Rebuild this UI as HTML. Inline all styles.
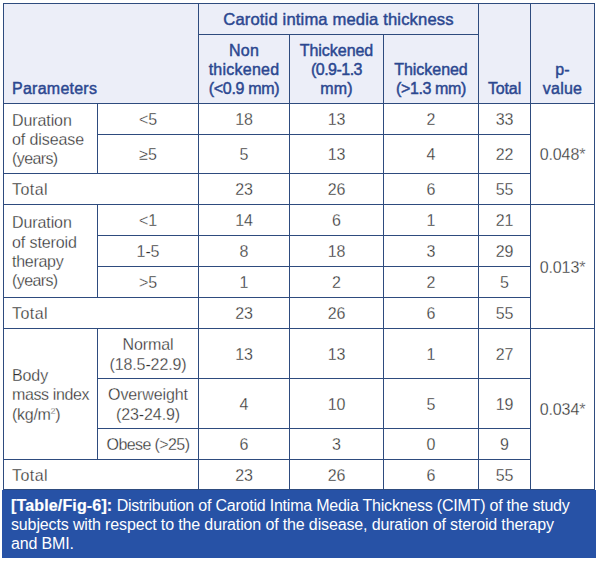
<!DOCTYPE html>
<html><head><meta charset="utf-8">
<style>
html,body{margin:0;padding:0;background:#fff;}
body{width:601px;height:563px;position:relative;overflow:hidden;font-family:"Liberation Sans",sans-serif;}
.hb{position:absolute;left:3px;top:3px;width:592px;height:100px;background:#eceef8;}
.h,.v{position:absolute;background:#2e4b7e;}
.h{height:1px;}
.v{width:1px;}
.cl{position:absolute;display:flex;align-items:center;justify-content:center;text-align:center;white-space:nowrap;box-sizing:border-box;}
.cl span{display:block;}
.b{font-size:16px;line-height:19.3px;color:#2e2e2e;-webkit-text-stroke:0.28px #fff;letter-spacing:-0.1px;padding-top:2px;}
.lft{justify-content:flex-start;text-align:left;padding-left:8px;}
.hd{font-size:16px;line-height:19px;color:#2b4790;-webkit-text-stroke:0.45px #2b4790;letter-spacing:0.25px;}
.ttl{font-size:16.6px;letter-spacing:0.15px;}
.bot{align-items:flex-end;padding-bottom:5px;}
sup{font-size:9px;line-height:0;vertical-align:6px;}
.cap{position:absolute;left:2px;top:490px;width:594px;height:68px;background:#2752a6;}
.ct{position:absolute;left:11px;top:496px;color:#fff;font-size:16px;line-height:19.2px;white-space:nowrap;letter-spacing:-0.16px;}
.ct b{letter-spacing:0.15px;-webkit-text-stroke:0.2px #fff;}
i{font-style:normal;}

</style></head><body>
<div class="hb"></div>
<div class="h" style="left:3px;top:3px;width:592px"></div>
<div class="h" style="left:198px;top:34px;width:281px"></div>
<div class="h" style="left:3px;top:103px;width:592px"></div>
<div class="h" style="left:97px;top:134px;width:434px"></div>
<div class="h" style="left:3px;top:173px;width:528px"></div>
<div class="h" style="left:3px;top:204px;width:592px"></div>
<div class="h" style="left:97px;top:235px;width:434px"></div>
<div class="h" style="left:97px;top:266px;width:434px"></div>
<div class="h" style="left:3px;top:297px;width:528px"></div>
<div class="h" style="left:3px;top:328px;width:592px"></div>
<div class="h" style="left:97px;top:378px;width:434px"></div>
<div class="h" style="left:97px;top:428px;width:434px"></div>
<div class="h" style="left:3px;top:459px;width:528px"></div>
<div class="h" style="left:3px;top:489px;width:592px"></div>
<div class="v" style="left:3px;top:3px;height:487px"></div>
<div class="v" style="left:97px;top:103px;height:71px"></div>
<div class="v" style="left:97px;top:204px;height:94px"></div>
<div class="v" style="left:97px;top:328px;height:132px"></div>
<div class="v" style="left:198px;top:3px;height:487px"></div>
<div class="v" style="left:289px;top:34px;height:456px"></div>
<div class="v" style="left:383px;top:34px;height:456px"></div>
<div class="v" style="left:478px;top:3px;height:487px"></div>
<div class="v" style="left:530px;top:3px;height:487px"></div>
<div class="v" style="left:594px;top:3px;height:487px"></div>
<div class="cl hd ttl" style="left:199px;top:4px;width:279px;height:30px;"><span>Carotid intima media thickness</span></div>
<div class="cl hd bot lft" style="left:4px;top:4px;width:194px;height:99px;"><span>Parameters</span></div>
<div class="cl hd bot" style="left:199px;top:35px;width:90px;height:68px;"><span>Non<br>thickened<br><i style="letter-spacing:-0.34px">(&lt;0.9 mm)</i></span></div>
<div class="cl hd bot" style="left:290px;top:35px;width:93px;height:68px;"><span><i style="letter-spacing:-0.04px">Thickened</i><br><i style="letter-spacing:-0.52px">(0.9-1.3</i><br>mm)</span></div>
<div class="cl hd bot" style="left:384px;top:35px;width:94px;height:68px;"><span><i style="letter-spacing:-0.04px">Thickened</i><br><i style="letter-spacing:-0.39px">(&gt;1.3 mm)</i></span></div>
<div class="cl hd bot" style="left:479px;top:4px;width:51px;height:99px;"><span><i style="letter-spacing:-0.12px">Total</i></span></div>
<div class="cl hd bot" style="left:531px;top:4px;width:63px;height:99px;"><span>p-<br>value</span></div>
<div class="cl b lft" style="left:4px;top:104px;width:93px;height:69px;"><span>Duration<br>of disease<br><i style="letter-spacing:-0.6px">(years)</i></span></div>
<div class="cl b" style="left:98px;top:104px;width:100px;height:30px;"><span>&lt;5</span></div>
<div class="cl b" style="left:199px;top:104px;width:90px;height:30px;"><span>18</span></div>
<div class="cl b" style="left:290px;top:104px;width:93px;height:30px;"><span>13</span></div>
<div class="cl b" style="left:384px;top:104px;width:94px;height:30px;"><span>2</span></div>
<div class="cl b" style="left:479px;top:104px;width:51px;height:30px;"><span>33</span></div>
<div class="cl b" style="left:98px;top:135px;width:100px;height:38px;"><span>≥5</span></div>
<div class="cl b" style="left:199px;top:135px;width:90px;height:38px;"><span>5</span></div>
<div class="cl b" style="left:290px;top:135px;width:93px;height:38px;"><span>13</span></div>
<div class="cl b" style="left:384px;top:135px;width:94px;height:38px;"><span>4</span></div>
<div class="cl b" style="left:479px;top:135px;width:51px;height:38px;"><span>22</span></div>
<div class="cl b lft" style="left:4px;top:174px;width:194px;height:30px;"><span><i style="letter-spacing:0.45px">Total</i></span></div>
<div class="cl b" style="left:199px;top:174px;width:90px;height:30px;"><span>23</span></div>
<div class="cl b" style="left:290px;top:174px;width:93px;height:30px;"><span>26</span></div>
<div class="cl b" style="left:384px;top:174px;width:94px;height:30px;"><span>6</span></div>
<div class="cl b" style="left:479px;top:174px;width:51px;height:30px;"><span>55</span></div>
<div class="cl b" style="left:531px;top:104px;width:63px;height:100px;"><span>0.048*</span></div>
<div class="cl b lft" style="left:4px;top:205px;width:93px;height:92px;"><span>Duration<br>of steroid<br><i style="letter-spacing:-0.28px">therapy</i><br><i style="letter-spacing:-0.6px">(years)</i></span></div>
<div class="cl b" style="left:98px;top:205px;width:100px;height:30px;"><span>&lt;1</span></div>
<div class="cl b" style="left:199px;top:205px;width:90px;height:30px;"><span>14</span></div>
<div class="cl b" style="left:290px;top:205px;width:93px;height:30px;"><span>6</span></div>
<div class="cl b" style="left:384px;top:205px;width:94px;height:30px;"><span>1</span></div>
<div class="cl b" style="left:479px;top:205px;width:51px;height:30px;"><span>21</span></div>
<div class="cl b" style="left:98px;top:236px;width:100px;height:30px;"><span>1-5</span></div>
<div class="cl b" style="left:199px;top:236px;width:90px;height:30px;"><span>8</span></div>
<div class="cl b" style="left:290px;top:236px;width:93px;height:30px;"><span>18</span></div>
<div class="cl b" style="left:384px;top:236px;width:94px;height:30px;"><span>3</span></div>
<div class="cl b" style="left:479px;top:236px;width:51px;height:30px;"><span>29</span></div>
<div class="cl b" style="left:98px;top:267px;width:100px;height:30px;"><span>&gt;5</span></div>
<div class="cl b" style="left:199px;top:267px;width:90px;height:30px;"><span>1</span></div>
<div class="cl b" style="left:290px;top:267px;width:93px;height:30px;"><span>2</span></div>
<div class="cl b" style="left:384px;top:267px;width:94px;height:30px;"><span>2</span></div>
<div class="cl b" style="left:479px;top:267px;width:51px;height:30px;"><span>5</span></div>
<div class="cl b lft" style="left:4px;top:298px;width:194px;height:30px;"><span><i style="letter-spacing:0.45px">Total</i></span></div>
<div class="cl b" style="left:199px;top:298px;width:90px;height:30px;"><span>23</span></div>
<div class="cl b" style="left:290px;top:298px;width:93px;height:30px;"><span>26</span></div>
<div class="cl b" style="left:384px;top:298px;width:94px;height:30px;"><span>6</span></div>
<div class="cl b" style="left:479px;top:298px;width:51px;height:30px;"><span>55</span></div>
<div class="cl b" style="left:531px;top:205px;width:63px;height:123px;"><span>0.013*</span></div>
<div class="cl b lft" style="left:4px;top:329px;width:93px;height:130px;"><span>Body<br><i style="letter-spacing:-0.39px">mass index</i><br><i style="letter-spacing:-0.28px">(kg/m<sup>2</sup>)</i></span></div>
<div class="cl b" style="left:98px;top:329px;width:100px;height:49px;"><span>Normal<br>(18.5-22.9)</span></div>
<div class="cl b" style="left:199px;top:329px;width:90px;height:49px;"><span>13</span></div>
<div class="cl b" style="left:290px;top:329px;width:93px;height:49px;"><span>13</span></div>
<div class="cl b" style="left:384px;top:329px;width:94px;height:49px;"><span>1</span></div>
<div class="cl b" style="left:479px;top:329px;width:51px;height:49px;"><span>27</span></div>
<div class="cl b" style="left:98px;top:379px;width:100px;height:49px;"><span>Overweight<br>(23-24.9)</span></div>
<div class="cl b" style="left:199px;top:379px;width:90px;height:49px;"><span>4</span></div>
<div class="cl b" style="left:290px;top:379px;width:93px;height:49px;"><span>10</span></div>
<div class="cl b" style="left:384px;top:379px;width:94px;height:49px;"><span>5</span></div>
<div class="cl b" style="left:479px;top:379px;width:51px;height:49px;"><span>19</span></div>
<div class="cl b" style="left:98px;top:429px;width:100px;height:30px;"><span><i style="letter-spacing:-0.6px">Obese (&gt;25)</i></span></div>
<div class="cl b" style="left:199px;top:429px;width:90px;height:30px;"><span>6</span></div>
<div class="cl b" style="left:290px;top:429px;width:93px;height:30px;"><span>3</span></div>
<div class="cl b" style="left:384px;top:429px;width:94px;height:30px;"><span>0</span></div>
<div class="cl b" style="left:479px;top:429px;width:51px;height:30px;"><span>9</span></div>
<div class="cl b lft" style="left:4px;top:460px;width:194px;height:29px;"><span><i style="letter-spacing:0.45px">Total</i></span></div>
<div class="cl b" style="left:199px;top:460px;width:90px;height:29px;"><span>23</span></div>
<div class="cl b" style="left:290px;top:460px;width:93px;height:29px;"><span>26</span></div>
<div class="cl b" style="left:384px;top:460px;width:94px;height:29px;"><span>6</span></div>
<div class="cl b" style="left:479px;top:460px;width:51px;height:29px;"><span>55</span></div>
<div class="cl b" style="left:531px;top:329px;width:63px;height:160px;"><span>0.034*</span></div>
<div class="cap"></div>
<div class="ct"><b>[Table/Fig-6]:</b> <i style="letter-spacing:-0.22px">Distribution of Carotid Intima Media Thickness (CIMT) of the study</i><br><i style="letter-spacing:-0.14px">subjects with respect to the duration of the disease, duration of steroid therapy</i><br>and BMI.</div>
</body></html>
